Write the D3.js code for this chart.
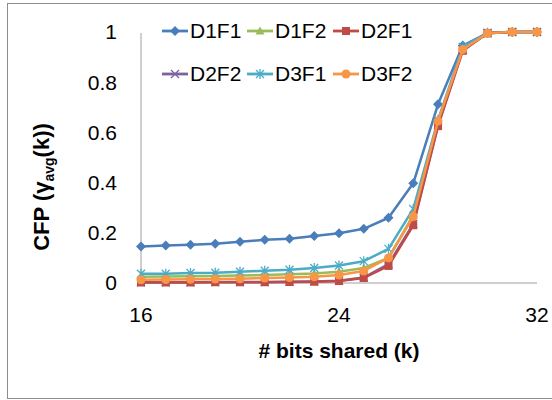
<!DOCTYPE html>
<html>
<head>
<meta charset="utf-8">
<script src="https://cdn.jsdelivr.net/npm/d3@7"></script>
<style>
html,body{margin:0;padding:0;background:#fff;}
svg{display:block;}
text{font-family:"Liberation Sans",Arial,sans-serif;}
</style>
</head>
<body>
<svg id="chart" width="552" height="400"></svg>
<script>
const bits = [16,17,18,19,20,21,22,23,24,25,26,27,28,29,30,31,32];
const D1F1 = [0.145,0.149,0.152,0.156,0.164,0.172,0.176,0.187,0.198,0.216,0.26,0.397,0.712,0.946,0.996,1,1];
const D1F2 = [0.025,0.026,0.027,0.028,0.030,0.032,0.035,0.038,0.045,0.060,0.10,0.27,0.645,0.93,0.995,1,1];
const D2F1 = [0.002,0.002,0.002,0.003,0.003,0.003,0.004,0.005,0.008,0.020,0.068,0.23,0.625,0.925,0.995,1,1];
const D2F2 = [0.003,0.003,0.003,0.004,0.004,0.004,0.005,0.006,0.009,0.022,0.075,0.235,0.63,0.93,0.995,1,1];
const D3F1 = [0.037,0.037,0.040,0.041,0.045,0.049,0.053,0.060,0.070,0.087,0.136,0.295,0.65,0.94,0.997,1,1];
const D3F2 = [0.013,0.014,0.015,0.016,0.017,0.020,0.022,0.025,0.032,0.048,0.10,0.265,0.645,0.93,0.995,1,1];
const seriesNames = ["D1F1","D1F2","D2F1","D2F2","D3F1","D3F2"];
const seriesValues = [D1F1,D1F2,D2F1,D2F2,D3F1,D3F2];
const colors = ["#4A7EBB","#9BBB59","#BE4B48","#7E62A0","#4BACC6","#F79646"];
const markers = ["diamond","triangle","square","x","asterisk","circle"];
const xTicks = [16,24,32];
const yTicks = [0,0.2,0.4,0.6,0.8,1];
const yTickLabels = ["0","0.2","0.4","0.6","0.8","1"];
const xTitle = "# bits shared (k)";

const svg = d3.select("#chart");
svg.append("rect").attr("x",7.5).attr("y",3.5).attr("width",560).attr("height",395)
  .attr("fill","#fff").attr("stroke","#8c8c8c").attr("stroke-width",1);

const x = d3.scaleLinear().domain([16,32]).range([141,537]);
const y = d3.scaleLinear().domain([0,1]).range([283,32]);

// axes
svg.append("line").attr("x1",x(16)).attr("x2",x(16)).attr("y1",y(1)+1).attr("y2",y(0))
  .attr("stroke","#bfbfbf").attr("stroke-width",1.5);
svg.append("line").attr("x1",x(16)).attr("x2",x(32)).attr("y1",y(0)).attr("y2",y(0))
  .attr("stroke","#bfbfbf").attr("stroke-width",1.5);

const fs = 21;
svg.selectAll(".ytl").data(yTicks).enter().append("text")
  .attr("x",117).attr("y",d=>y(d)).attr("dy","0.35em").attr("text-anchor","end")
  .attr("font-size",fs).attr("fill","#000").text((d,i)=>yTickLabels[i]);
svg.selectAll(".xtl").data(xTicks).enter().append("text")
  .attr("x",d=>x(d)).attr("y",315).attr("dy","0.35em").attr("text-anchor","middle")
  .attr("font-size",fs).attr("fill","#000").text(d=>d);

svg.append("text").attr("x",339).attr("y",351).attr("dy","0.35em").attr("text-anchor","middle")
  .attr("font-size",21).attr("font-weight","bold").text(xTitle);

const yt = svg.append("text").attr("transform","translate(41,187) rotate(-90)")
  .attr("text-anchor","middle").attr("dy","0.35em").attr("font-size",22).attr("font-weight","bold");
yt.append("tspan").text("CFP (\u03B3");
yt.append("tspan").attr("font-size",14).attr("dy","5").text("avg");
yt.append("tspan").attr("dy","-5").text("(k))");

function drawMarker(g, type, cx, cy, color){
  if(type==="diamond"){
    g.append("path").attr("d",`M${cx},${cy-5}L${cx+5},${cy}L${cx},${cy+5}L${cx-5},${cy}Z`).attr("fill",color);
  } else if(type==="triangle"){
    g.append("path").attr("d",`M${cx},${cy-4.5}L${cx+4.5},${cy+3.5}L${cx-4.5},${cy+3.5}Z`).attr("fill",color);
  } else if(type==="square"){
    g.append("rect").attr("x",cx-4).attr("y",cy-4).attr("width",8).attr("height",8).attr("fill",color);
  } else if(type==="x"){
    g.append("path").attr("d",`M${cx-4},${cy-4}L${cx+4},${cy+4}M${cx-4},${cy+4}L${cx+4},${cy-4}`).attr("stroke",color).attr("stroke-width",1.3);
  } else if(type==="asterisk"){
    g.append("path").attr("d",`M${cx-4},${cy-4}L${cx+4},${cy+4}M${cx-4},${cy+4}L${cx+4},${cy-4}M${cx},${cy-5}L${cx},${cy+5}`).attr("stroke",color).attr("stroke-width",1.3);
  } else if(type==="circle"){
    g.append("circle").attr("cx",cx).attr("cy",cy).attr("r",4.5).attr("fill",color);
  }
}

const line = d3.line().x((d,i)=>x(bits[i])).y(d=>y(d));
const order = [0,1,3,4,2,5];
order.forEach(si=>{
  const g = svg.append("g");
  g.append("path").datum(seriesValues[si]).attr("d",line).attr("fill","none")
    .attr("stroke",colors[si]).attr("stroke-width",2.5).attr("stroke-linejoin","round");
  seriesValues[si].forEach((v,i)=>drawMarker(g,markers[si],x(bits[i]),y(v),colors[si]));
});

// legend
const legX = [162,247,333], legY = [31,74];
seriesNames.forEach((n,i)=>{
  const lx = legX[i%3], ly = legY[Math.floor(i/3)];
  const g = svg.append("g");
  g.append("line").attr("x1",lx).attr("x2",lx+26).attr("y1",ly).attr("y2",ly)
    .attr("stroke",colors[i]).attr("stroke-width",2.8);
  drawMarker(g,markers[i],lx+13,ly,colors[i]);
  g.append("text").attr("x",lx+28).attr("y",ly).attr("dy","0.35em").attr("font-size",fs).text(n);
});
</script>
</body>
</html>
